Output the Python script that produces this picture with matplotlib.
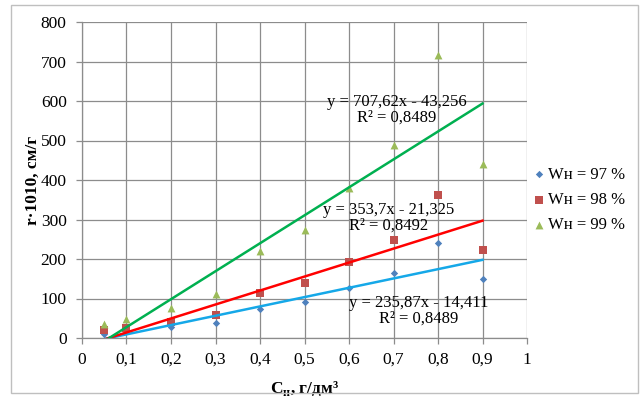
import matplotlib
matplotlib.use("Agg")
import matplotlib.pyplot as plt
import numpy as np
from matplotlib.patches import Rectangle

plt.rcParams['font.family'] = ['Liberation Serif', 'DejaVu Serif']
plt.rcParams['mathtext.fontset'] = 'custom'
plt.rcParams['mathtext.rm'] = 'Liberation Serif'
plt.rcParams['mathtext.bf'] = 'Liberation Serif:bold'

x_vals = [0.05, 0.1, 0.2, 0.3, 0.4, 0.5, 0.6, 0.7, 0.8, 0.9]
y_97 = [10, 18, 27, 38, 74, 91, 126, 165, 240, 149]
y_98 = [19, 26, 41, 58, 115, 138, 192, 247, 361, 223]
y_99 = [35, 48, 75, 112, 220, 273, 380, 489, 716, 440]

series_labels = ['Wн = 97 %', 'Wн = 98 %', 'Wн = 99 %']
slopes = [235.87, 353.7, 707.62]
intercepts = [-14.411, -21.325, -43.256]
eq_texts = ['y = 235,87x - 14,411\nR² = 0,8489',
            'y = 353,7x - 21,325\nR² = 0,8492',
            'y = 707,62x - 43,256\nR² = 0,8489']
eq_pos = [(0.757, 68), (0.688, 304), (0.708, 577)]

x_ticks = [0, 0.1, 0.2, 0.3, 0.4, 0.5, 0.6, 0.7, 0.8, 0.9, 1]
x_ticklabels = ['0', '0,1', '0,2', '0,3', '0,4', '0,5', '0,6', '0,7', '0,8', '0,9', '1']
y_ticks = [0, 100, 200, 300, 400, 500, 600, 700, 800]

marker_colors = ['#4F81BD', '#C0504D', '#9BBB59']
markers = ['D', 's', '^']
msizes = [14, 30, 32]
line_colors = ['#15A8E8', '#FF0000', '#00B050']

fig = plt.figure(figsize=(6.42, 3.98), dpi=100)
fig.patch.set_facecolor('white')
fig.add_artist(Rectangle((11/642, 1-393/398), (638-11)/642, (393-5)/398,
                         transform=fig.transFigure, fill=False,
                         edgecolor='#BFBFBF', linewidth=1.0))

ax = fig.add_axes([82/642, 1-338/398, 445/642, 316/398])
ax.set_xlim(0, 1)
ax.set_ylim(0, 800)

ax.grid(True, color='#8C8C8C', linewidth=0.9)
ax.set_axisbelow(True)
for s in ['top', 'right']:
    ax.spines[s].set_visible(False)
for s in ['left', 'bottom']:
    ax.spines[s].set_color('#8C8C8C')
    ax.spines[s].set_linewidth(0.9)
ax.tick_params(axis='both', colors='#8C8C8C', length=4, width=0.9,
               labelcolor='black', labelsize=12.5)
ax.tick_params(axis='x', pad=6)
ax.tick_params(axis='y', pad=7)
ax.set_xticks(x_ticks)
ax.set_xticklabels(x_ticklabels)
ax.set_yticks(y_ticks)

series = [y_97, y_98, y_99]
handles = []
for i in range(3):
    h = ax.scatter(x_vals, series[i], marker=markers[i], s=msizes[i],
                   color=marker_colors[i], zorder=3, label=series_labels[i],
                   linewidths=0)
    handles.append(h)
for i in range(3):
    xl = np.array([x_vals[0], x_vals[-1]])
    ax.plot(xl, slopes[i] * xl + intercepts[i], color=line_colors[i],
            linewidth=1.8, zorder=4)
for i in range(3):
    ax.text(eq_pos[i][0], eq_pos[i][1], eq_texts[i], ha='center', va='center',
            multialignment='center', fontsize=12, zorder=5, linespacing=1.0)

ax.set_xlabel(r'C$_{\mathbf{н}}$, г/дм³', fontsize=12.5, fontweight='bold', labelpad=8)
ax.set_ylabel('r·1010, см/г', fontsize=12.5, fontweight='bold')
ax.yaxis.set_label_coords(-0.093, 0.5)

fig.legend(handles=handles, labels=series_labels, loc='center left',
           bbox_to_anchor=(531/642, 1-200/398), frameon=False, fontsize=12,
           handletextpad=0.0, handlelength=1.0, labelspacing=0.55,
           markerscale=1.0, borderaxespad=0, borderpad=0)

fig.savefig('out.png', dpi=100)
